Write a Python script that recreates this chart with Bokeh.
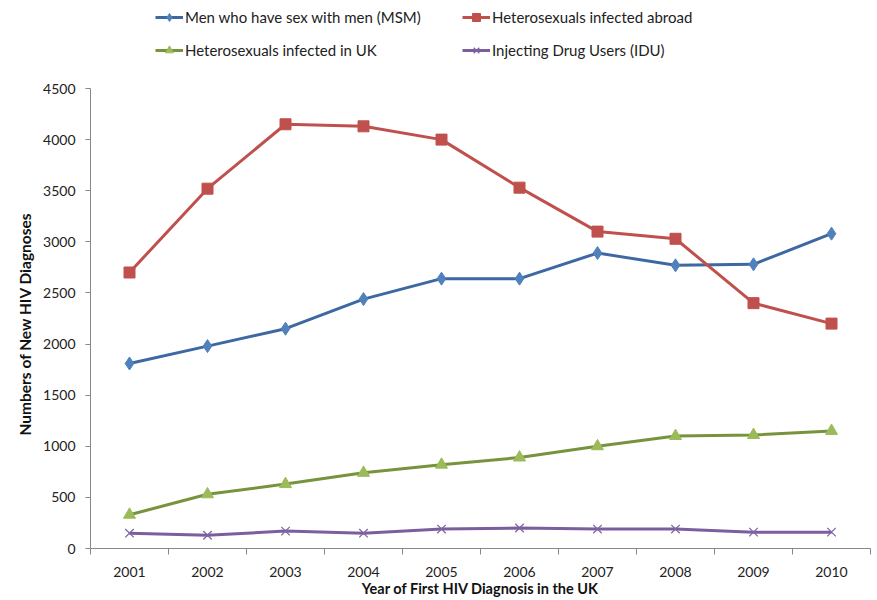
from bokeh.plotting import figure
from bokeh.models import Legend, LegendItem, FixedTicker, Range1d, Title
from bokeh.embed import file_html
from bokeh.resources import INLINE

years = [2001, 2002, 2003, 2004, 2005, 2006, 2007, 2008, 2009, 2010]
msm = [1810, 1980, 2150, 2440, 2640, 2640, 2890, 2770, 2780, 3080]
het_abroad = [2700, 3520, 4150, 4130, 4000, 3530, 3100, 3030, 2400, 2200]
het_uk = [330, 530, 630, 740, 820, 890, 1000, 1100, 1110, 1150]
idu = [150, 130, 170, 150, 190, 200, 190, 190, 160, 160]
y_ticks = [0, 500, 1000, 1500, 2000, 2500, 3000, 3500, 4000, 4500]
labels = ["Men who have sex with men (MSM)", "Heterosexuals infected abroad",
          "Heterosexuals infected in UK", "Injecting Drug Users (IDU)"]
x_title = "Year of First HIV Diagnosis in the UK"
y_title = "Numbers of New HIV Diagnoses"

FONT = "Lato"
Y_MAX = 4500
FRAME_H = 548      # frame spans the full top area so the legend can sit above the axis
AXIS_H = 460       # pixels covered by 0..4500

p = figure(width=872, height=600, output_backend="svg", toolbar_location=None,
           x_range=Range1d(2000.5, 2010.5),
           y_range=Range1d(0, Y_MAX * FRAME_H / AXIS_H),
           min_border_left=90, min_border_right=2, min_border_bottom=52,
           min_border_top=0)
p.outline_line_color = None
p.xgrid.grid_line_color = None
p.ygrid.grid_line_color = None

r1l = p.line(years, msm, line_color="#3D68A2", line_width=3)
r1m = p.scatter(years, msm, marker="diamond", size=13, fill_color="#4F81BD", line_color="#4F81BD")
r2l = p.line(years, het_abroad, line_color="#C0504D", line_width=3)
r2m = p.scatter(years, het_abroad, marker="square", size=11, fill_color="#C0504D", line_color="#C0504D")
r3l = p.line(years, het_uk, line_color="#77933C", line_width=3)
r3m = p.scatter(years, het_uk, marker="triangle", size=12, fill_color="#9BBB59", line_color="#9BBB59")
r4l = p.line(years, idu, line_color="#7A5E9E", line_width=3)
r4m = p.scatter(years, idu, marker="x", size=12, line_color="#8064A2", line_width=1.3)

rends = [[r1l, r1m], [r2l, r2m], [r3l, r3m], [r4l, r4m]]
locs = [(65, 521), (372, 521), (65, 488), (372, 488)]
for lab, rr, loc in zip(labels, rends, locs):
    lg = Legend(items=[LegendItem(label=lab, renderers=rr)], location=loc,
                border_line_color=None, background_fill_alpha=0,
                label_text_font=FONT, label_text_font_size="15px",
                label_text_color="#222222", glyph_width=28, glyph_height=20,
                label_height=20, label_standoff=2, padding=0, margin=0)
    p.add_layout(lg, "center")

p.xaxis.ticker = FixedTicker(ticks=years, minor_ticks=[y + 0.5 for y in [2000] + years])
p.xaxis.major_tick_line_color = None
p.xaxis.major_tick_out = 6
p.xaxis.major_tick_in = 0
p.xaxis.minor_tick_out = 6
p.xaxis.minor_tick_in = 0
p.xaxis.minor_tick_line_color = "#888888"
p.xaxis.axis_line_color = "#888888"
p.xaxis.major_label_standoff = 12
p.xaxis.axis_label = x_title
p.xaxis.axis_label_standoff = 0

p.yaxis.ticker = FixedTicker(ticks=y_ticks)
p.yaxis.bounds = (0, Y_MAX)
p.yaxis.minor_tick_line_color = None
p.yaxis.major_tick_out = 5
p.yaxis.major_tick_in = 0
p.yaxis.major_tick_line_color = "#888888"
p.yaxis.axis_line_color = "#888888"
p.yaxis.major_label_standoff = 10

for ax in (p.xaxis, p.yaxis):
    ax.major_label_text_font = FONT
    ax.major_label_text_font_size = "14px"
    ax.major_label_text_color = "#222222"
    ax.axis_label_text_font = FONT
    ax.axis_label_text_font_style = "bold"
    ax.axis_label_text_color = "#111111"
p.xaxis.axis_label_text_font_size = "14.5px"

# y-axis title centred on the 0..4500 axis span (the frame extends above it)
p.add_layout(Title(text=y_title, align="left", offset=113, standoff=14,
                   text_font=FONT, text_font_size="15.5px", text_font_style="bold",
                   text_color="#111111"), "left")

open("out.html", "w").write(file_html(p, INLINE))
